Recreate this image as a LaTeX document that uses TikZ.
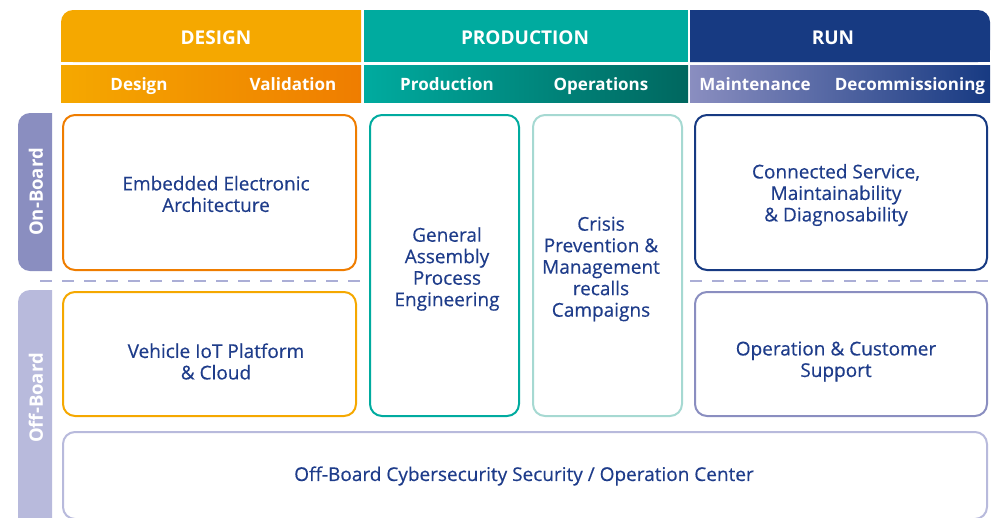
\documentclass[tikz,border=0pt]{standalone}
\usepackage{fontspec}
\setmainfont{Open Sans}
\newfontfamily\medfont[FakeBold=0.35]{Open Sans}
\definecolor{dorange}{HTML}{F5A800}
\definecolor{vorange}{HTML}{EF7D00}
\definecolor{pteal}{HTML}{00AB9F}
\definecolor{dteal}{HTML}{00675F}
\definecolor{lteal}{HTML}{A6D9D2}
\definecolor{rblue}{HTML}{173A82}
\definecolor{lav}{HTML}{8A8EC0}
\definecolor{llav}{HTML}{B8BADC}
\definecolor{dashc}{HTML}{ABAED6}
\definecolor{txt}{HTML}{1E3C8A}
\tikzset{
  box/.style={draw, line width=2pt, rounded corners=12pt, fill=white, inner sep=0pt},
  boxtext/.style={text=txt, align=center, font=\medfont\fontsize{19}{21.5}\selectfont},
  headtext/.style={text=white, anchor=base, font=\fontsize{19}{22}\selectfont\bfseries},
  subtext/.style={text=white, anchor=base, font=\fontsize{17}{20}\selectfont\bfseries},
  tabtext/.style={text=white, rotate=90, font=\fontsize{18.5}{21}\selectfont\bfseries},
  sep/.style={draw=dashc, line width=2.5pt, dash pattern=on 12pt off 10pt}
}
\begin{document}
\begin{tikzpicture}[x=1pt,y=1pt]
\useasboundingbox (0,0) rectangle (998,-517);
\clip (0,0) rectangle (998,-517);
% header row 1
\fill[dorange] (361,-10) -- (73,-10) [rounded corners=12pt] -- (61,-10) -- (61,-62) [sharp corners] -- (361,-62) -- cycle;
\fill[dorange] (61,-22) rectangle (361,-62);
\fill[dorange] (73,-10) rectangle (361,-62);
\fill[pteal] (364,-10) rectangle (688,-62);
\fill[rblue] (690,-10) -- (978,-10) [rounded corners=12pt] -- (990,-10) -- (990,-62) [sharp corners] -- (690,-62) -- cycle;
\fill[rblue] (690,-10) rectangle (978,-62);
\fill[rblue] (690,-22) rectangle (990,-62);
\node[headtext] (hdesign) at (216,-44) {DESIGN};
\node[headtext] (hprod) at (525,-44) {PRODUCTION};
\node[headtext] (hrun) at (833,-44) {RUN};
% header row 2
\shade[left color=dorange, right color=vorange] (61,-65) rectangle (361,-102);
\shade[left color=pteal, right color=dteal] (364,-65) rectangle (688,-102);
\shade[left color=lav, right color=rblue] (690,-65) rectangle (990,-102);
\node[subtext] (sdesign) at (139,-90) {Design};
\node[subtext] (svalid) at (293,-90) {Validation};
\node[subtext] (sprod) at (447,-90) {Production};
\node[subtext] (sops) at (601,-90) {Operations};
\node[subtext] (smaint) at (755,-90) {Maintenance};
\node[subtext] (sdecom) at (910,-90) {Decommissioning};
% left tabs
\fill[lav] (52,-113) [rounded corners=12pt] -- (18,-113) -- (18,-271) [sharp corners] -- (52,-271) -- cycle;
\fill[llav] (52,-290) [rounded corners=12pt] -- (18,-290) [sharp corners] -- (18,-530) -- (52,-530) -- cycle;
\node[tabtext] (onboard) at (36,-192) {On-Board};
\node[tabtext] (offboard) at (36,-398) {Off-Board};
% dashed separator
\draw[sep] (40,-281) -- (362,-281);
\draw[sep] (690,-281) -- (990,-281);
% boxes
\node[box, draw=vorange, minimum width=293pt, minimum height=155pt] (embedded) at (209.5,-192.5) {};
\node[box, draw=dorange, minimum width=293pt, minimum height=124pt] (vehicle) at (209.5,-354) {};
\node[box, draw=pteal, minimum width=149pt, minimum height=301pt] (assembly) at (444.5,-265.5) {};
\node[box, draw=lteal, minimum width=149pt, minimum height=301pt] (crisis) at (607.5,-265.5) {};
\node[box, draw=rblue, minimum width=292pt, minimum height=155pt] (connected) at (841,-192.5) {};
\node[box, draw=lav, minimum width=292pt, minimum height=124pt] (operation) at (841,-354) {};
\node[box, draw=llav, minimum width=924pt, minimum height=87pt] (offsec) at (525,-475.5) {};
% texts
\node[boxtext] (tembedded) at (216,-194) {Embedded Electronic\\Architecture};
\node[boxtext] (tvehicle) at (216,-361.5) {Vehicle IoT Platform\\\& Cloud};
\node[boxtext] (tassembly) at (447,-269) {General\\Assembly\\Process\\Engineering};
\node[boxtext] (tcrisis) at (601,-269) {Crisis\\Prevention \&\\Management\\recalls\\Campaigns};
\node[boxtext] (tconnected) at (836,-195) {Connected Service,\\Maintainability\\\& Diagnosability};
\node[boxtext] (toperation) at (836,-361.5) {Operation \& Customer\\Support};
\node[boxtext] (toffsec) at (524,-476) {Off-Board Cybersecurity Security / Operation Center};
\end{tikzpicture}
\end{document}
